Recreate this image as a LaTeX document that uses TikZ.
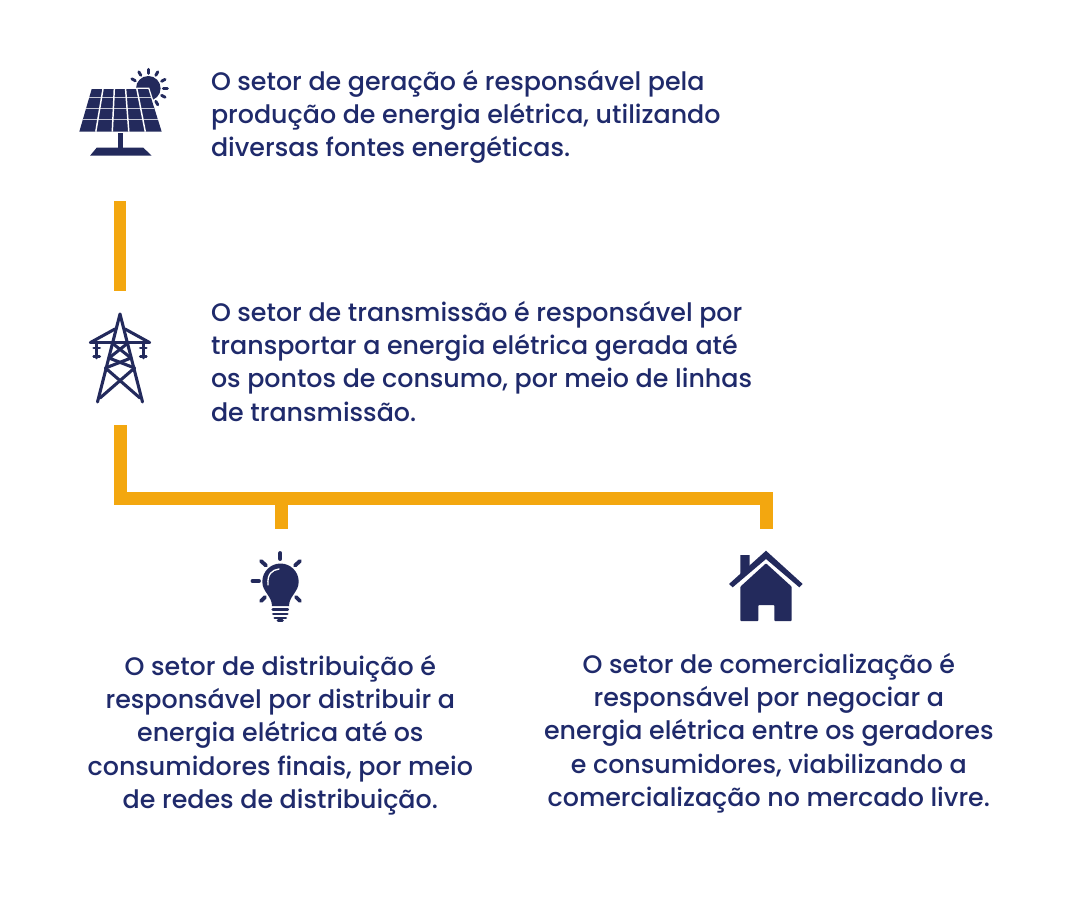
\documentclass[tikz,border=0pt]{standalone}
\usepackage{fontspec}
\setmainfont{Poppins Medium}
\definecolor{navy}{HTML}{232A5C}
\definecolor{txtc}{HTML}{1F2A6B}
\definecolor{amber}{HTML}{F3A70F}
\definecolor{gridc}{HTML}{C4C6D4}
\tikzset{
  x=0.75pt,y=-0.75pt,
  txt/.style={text=txtc,inner sep=0pt,outer sep=0pt,font=\fontsize{19pt}{25pt}\selectfont},
  bar/.style={draw=amber,line width=9.5pt,line cap=butt,line join=miter},
  ic/.style={fill=navy,draw=none},
  ln/.style={draw=navy,line width=2.3pt,line cap=round,line join=round},
  ray/.style={draw=navy,line width=2.2pt,line cap=round},
}
\begin{document}
\begin{tikzpicture}
\useasboundingbox (0,0) rectangle (1080,896);
\fill[white] (0,0) rectangle (1080,896);
% text
\node[txt,align=left,anchor=north west] (t1) at (211,70) {O setor de geração é responsável pela\\produção de energia elétrica, utilizando\\diversas fontes energéticas.};
\node[txt,align=left,anchor=north west] (t2) at (211,301) {O setor de transmissão é responsável por\\transportar a energia elétrica gerada até\\os pontos de consumo, por meio de linhas\\de transmissão.};
\node[txt,align=center,anchor=north] (t3) at (280.3,655) {O setor de distribuição é\\responsável por distribuir a\\energia elétrica até os\\consumidores finais, por meio\\de redes de distribuição.};
\node[txt,align=center,anchor=north] (t4) at (768.8,653) {O setor de comercialização é\\responsável por negociar a\\energia elétrica entre os geradores\\e consumidores, viabilizando a\\comercialização no mercado livre.};
% connector anchors
\coordinate (a1) at (120,201);
\coordinate (a2) at (120,291);
\coordinate (b1) at (120,425);
\coordinate (bj) at (120.3,498.3);
\coordinate (bl) at (281.2,498.3);
\coordinate (bl2) at (281.2,529);
\coordinate (br) at (766.4,498.3);
\coordinate (br2) at (766.4,529);
\draw[bar] (a1) -- (a2);
\draw[bar] (b1 -| bj) -- (bj) -- (br) -- (br2);
\draw[bar] (bl) -- (bl2);
% solar panel
\fill[ic] (148.3,88.3) circle (12.3);
\foreach \a in {90,60,120,150,28,0,-28,-60}
  \draw[ray] (148.3,88.3) ++(\a:15 and -15) -- ++(\a:4 and -4);
\draw[white,line width=2pt,fill=white] (91.7,89) -- (148.3,89) -- (161.7,131.7) -- (79.3,131.7) -- cycle;
\fill[ic] (91.7,89) -- (148.3,89) -- (161.7,131.7) -- (79.3,131.7) -- cycle;
\foreach \y in {97.3,108.3,119.3}
  \draw[gridc,line width=1.1pt] ({91.7-(\y-89)*0.29},\y) -- ({148.3+(\y-89)*0.314},\y);
\foreach \i in {1,2,3,4}
  \draw[white,line width=1.1pt] ({91.7+\i*11.3},89) -- ({79.3+\i*16.5},131.7);
\fill[ic] (118.3,133) rectangle (122.7,147.5);
\fill[ic] (96.7,147.7) -- (143.3,147.7) -- (151.7,155.7) -- (90,155.7) -- cycle;
% tower
\draw[ln] (97.5,402) -- (120,314) -- (142.5,402);
\draw[ln] (90.5,342.5) -- (149.5,342.5);
\draw[ln] (90.5,342.5) -- (115,329) (149.5,342.5) -- (125,329);
\draw[ln] (112,343) -- (131,358) -- (105.5,368);
\draw[ln] (128,343) -- (109,358) -- (134.5,368);
\draw[ln] (105.5,368) -- (140,398);
\draw[ln] (134.5,368) -- (100,398);
\foreach \x in {96.7,143.3}{
  \draw[ln,line width=2.1pt] (\x,343) -- (\x,358);
  \draw[ln,line width=2.1pt] (\x-3,348) -- (\x+3,348);
  \draw[ln,line width=2.1pt] (\x-3,356.5) -- (\x+3,356.5);
}
% bulb
\fill[ic] (272,606) .. controls (272,596) and (262.3,592) .. (262.3,581.7) arc[start angle=180,end angle=360,radius=18.2] .. controls (298.7,592) and (289,596) .. (289,606) -- cycle;
\draw[white,line width=1pt,line cap=round] (268,585) .. controls (267,574) and (272,570) .. (279,569);
\foreach \y/\w in {609.5/7.5,614/7,618/5.5}
  \draw[ln,line width=2.1pt] (280.3-\w,\y) -- (280.3+\w,\y);
\draw[ln,line width=2.1pt] (278,620.5) -- (282.5,620.5);
\draw[ray,line width=2.9pt] (280.3,553) -- (280.3,559);
\draw[ray,line width=2.9pt] (252.5,581) -- (259,581);
\draw[ray,line width=2.9pt] (261,561) -- (266,565.5);
\draw[ray,line width=2.9pt] (300,561) -- (295,565.5);
\draw[ray,line width=2.9pt] (261,601) -- (265,597);
\draw[ray,line width=2.9pt] (300,601) -- (296,597);
% house
\fill[ic] (766,550.7) -- (802.7,584) -- (799.3,587.3) -- (766,559) -- (732.7,587.3) -- (729,584) -- cycle;
\fill[ic] (740.3,555) -- (749.7,555) -- (749.7,566) -- (740.3,575) -- cycle;
\fill[ic,rounded corners=0.6pt] (766,563.3) -- (791.7,586.7) -- (791.7,621) -- (774.3,621) -- (774.3,605) -- (758.3,605) -- (758.3,621) -- (740.3,621) -- (740.3,586.7) -- cycle;
\end{tikzpicture}
\end{document}
